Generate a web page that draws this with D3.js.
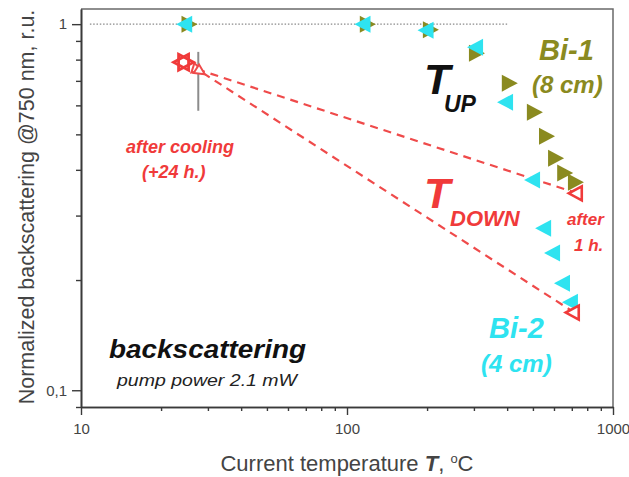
<!DOCTYPE html>
<html>
<head>
<meta charset="utf-8">
<script src="https://cdn.jsdelivr.net/npm/d3@7"></script>
<style>
  html, body { margin: 0; padding: 0; background: #fff; }
  svg { display: block; font-family: "Liberation Sans", Arial, sans-serif; }
</style>
</head>
<body>
<svg id="chart" width="629" height="477"></svg>
<script>
// Heating run (T_UP), sample Bi-1 (8 cm): [temperature °C, normalized backscattering]
const bi1Up = [
  [25, 1.0], [117, 1.0], [202, 0.965], [301, 0.833], [400, 0.69],
  [497, 0.575], [552, 0.494], [597, 0.43], [646, 0.392], [709, 0.37]
];
// Heating run (T_UP), sample Bi-2 (4 cm)
const bi2Up = [
  [25, 1.0], [117, 1.0], [202, 0.963], [310, 0.865], [402, 0.612],
  [508, 0.375], [559, 0.277], [604, 0.237], [658, 0.196], [705, 0.174]
];
// Cooling run (T_DOWN): after 1 h at top temperature, and after cooling (+24 h)
const downAfter1h = [[735, 0.345], [716, 0.163]];
const downAfterCooling = [[24.3, 0.787], [24.3, 0.787]];
// Arrow targets of the cooling paths
const arrowTargets = [[28.6, 0.745], [29.2, 0.73]];
// Reference level and vertical bar near the cooled values
const unityLine = [[10.8, 1], [400, 1]];
const coolingBar = [[27.6, 0.84], [27.6, 0.58]];

const xMajor = [10, 100, 1000];
const xMinor = [20, 30, 40, 50, 60, 70, 80, 90, 200, 300, 400, 500, 600, 700, 800, 900];
const yMajor = [0.1, 1];
const yMajorLabels = ["0,1", "1"];
const yMinor = [0.09, 0.2, 0.3, 0.4, 0.5, 0.6, 0.7, 0.8, 0.9];

const OLIVE = "#8a8a20", CYAN = "#2ee3f0", RED = "#f03a3a", DASHRED = "#ef4a4a";

const svg = d3.select("#chart");
const plotLeft = 81, plotRight = 613, plotTop = 9, plotBottom = 407;

const x = d3.scaleLog().domain([10, 1000]).range([plotLeft, plotRight]);
const y = d3.scaleLog().domain([0.09, 1.1]).range([plotBottom, plotTop]);

// frame (top and right)
svg.append("path")
  .attr("d", `M${plotLeft},${plotTop}H${plotRight}V${plotBottom}`)
  .attr("fill", "none").attr("stroke", "#6a6a6a").attr("stroke-width", 1.5);

// axes
const axisColor = "#3a3a3a";
function styleAxis(g) {
  g.selectAll("path.domain").attr("stroke", axisColor).attr("stroke-width", 1.6);
  g.selectAll(".tick line").attr("stroke", axisColor).attr("stroke-width", 1.4);
  g.selectAll(".tick text").attr("fill", "#444").attr("font-size", 15)
    .attr("font-family", "Liberation Sans, Arial, sans-serif");
}
svg.append("g").attr("transform", `translate(0,${plotBottom})`)
  .call(d3.axisBottom(x).tickValues(xMinor).tickSize(4).tickSizeOuter(0).tickFormat(""))
  .call(styleAxis);
svg.append("g").attr("transform", `translate(0,${plotBottom})`)
  .call(d3.axisBottom(x).tickValues(xMajor).tickSize(8).tickSizeOuter(0).tickPadding(8)
    .tickFormat(d3.format("d")))
  .call(styleAxis);
svg.append("g").attr("transform", `translate(${plotLeft},0)`)
  .call(d3.axisLeft(y).tickValues(yMinor).tickSize(5).tickSizeOuter(0).tickFormat(""))
  .call(styleAxis);
svg.append("g").attr("transform", `translate(${plotLeft},0)`)
  .call(d3.axisLeft(y).tickValues(yMajor).tickSize(9).tickSizeOuter(0).tickPadding(5)
    .tickFormat((d, i) => yMajorLabels[i]))
  .call(styleAxis);

// axis titles
svg.append("text")
  .attr("transform", "translate(34,207) rotate(-90)")
  .attr("text-anchor", "middle").attr("font-size", 21.5).attr("fill", "#444")
  .text("Normalized backscattering @750 nm, r.u.");
const xt = svg.append("text").attr("x", 347).attr("y", 471)
  .attr("text-anchor", "middle").attr("font-size", 22).attr("fill", "#444");
xt.append("tspan").text("Current temperature  ");
xt.append("tspan").attr("font-weight", "bold").attr("font-style", "italic").text("T");
xt.append("tspan").text(", ");
xt.append("tspan").attr("font-size", 13).attr("dy", -8).text("o");
xt.append("tspan").attr("dy", 8).text("C");

const line = d3.line().x(d => x(d[0])).y(d => y(d[1]));

// dotted unity level
svg.append("path").attr("d", line(unityLine))
  .attr("fill", "none").attr("stroke", "#8a8a8a").attr("stroke-width", 1.3)
  .attr("stroke-dasharray", "1.5,1.8");

// vertical gray bar
svg.append("path").attr("d", line(coolingBar))
  .attr("fill", "none").attr("stroke", "#8c8c8c").attr("stroke-width", 2);

// arrow marker for cooling paths
svg.append("defs").append("marker")
  .attr("id", "arrow").attr("viewBox", "-2 -7 16 14")
  .attr("refX", 0).attr("refY", 0)
  .attr("markerWidth", 16).attr("markerHeight", 14)
  .attr("markerUnits", "userSpaceOnUse").attr("orient", "auto")
  .append("path").attr("d", "M10,-5L0,0L10,5Z")
  .attr("fill", "#fff").attr("stroke", DASHRED).attr("stroke-width", 2);

// dashed cooling paths
downAfter1h.forEach((p, i) => {
  svg.append("path").attr("d", line([p, arrowTargets[i]]))
    .attr("fill", "none").attr("stroke", DASHRED).attr("stroke-width", 2.2)
    .attr("stroke-dasharray", "8,6").attr("marker-end", "url(#arrow)");
});

// triangles centred on their centroid, so opposite pairs form a star
const rightTri = (w, h) => `M${-w / 3},${-h / 2}L${2 * w / 3},0L${-w / 3},${h / 2}Z`;
const leftTri = (w, h) => `M${w / 3},${-h / 2}L${-2 * w / 3},0L${w / 3},${h / 2}Z`;

svg.append("g").selectAll("path").data(bi1Up).join("path")
  .attr("transform", d => `translate(${x(d[0])},${y(d[1])})`)
  .attr("d", rightTri(16, 17)).attr("fill", OLIVE);
svg.append("g").selectAll("path").data(bi2Up).join("path")
  .attr("transform", d => `translate(${x(d[0])},${y(d[1])})`)
  .attr("d", leftTri(16, 17)).attr("fill", CYAN);

svg.append("g").selectAll("path").data(downAfter1h).join("path")
  .attr("transform", d => `translate(${x(d[0])},${y(d[1])})`)
  .attr("d", leftTri(13, 14)).attr("fill", "#fff")
  .attr("stroke", RED).attr("stroke-width", 2.6).attr("stroke-linejoin", "miter");
svg.append("g").selectAll("path").data(downAfterCooling).join("path")
  .attr("transform", d => `translate(${x(d[0])},${y(d[1])})`)
  .attr("d", (d, i) => i === 0 ? rightTri(15, 16) : leftTri(15, 16)).attr("fill", "none")
  .attr("stroke", RED).attr("stroke-width", 2.8);

// annotations
function label(xp, yp, txt, size, color, opts = {}) {
  return svg.append("text").attr("x", xp).attr("y", yp)
    .attr("font-size", size).attr("fill", color)
    .attr("font-weight", opts.weight || "bold").attr("font-style", "italic")
    .attr("text-anchor", opts.anchor || "start")
    .text(txt);
}
label(424, 94, "T", 43, "#111");
label(444, 112, "UP", 23, "#111");
label(424, 208, "T", 43, RED);
label(450, 226, "DOWN", 22, RED);
label(539, 60, "Bi-1", 29, OLIVE);
label(532, 93, "(8 cm)", 24, OLIVE);
label(489, 338, "Bi-2", 29, CYAN);
label(481, 372, "(4 cm)", 24, CYAN);
label(567, 225, "after", 17, RED);
label(574, 251, "1 h.", 17, RED);
label(126, 153, "after cooling", 18, RED);
label(142, 178, "(+24 h.)", 18, RED);
label(109, 358, "backscattering", 25, "#111")
  .attr("textLength", 197).attr("lengthAdjust", "spacingAndGlyphs");
label(117, 386, "pump power 2.1 mW", 17, "#222", { weight: "normal" })
  .attr("textLength", 180).attr("lengthAdjust", "spacingAndGlyphs");
</script>
</body>
</html>
